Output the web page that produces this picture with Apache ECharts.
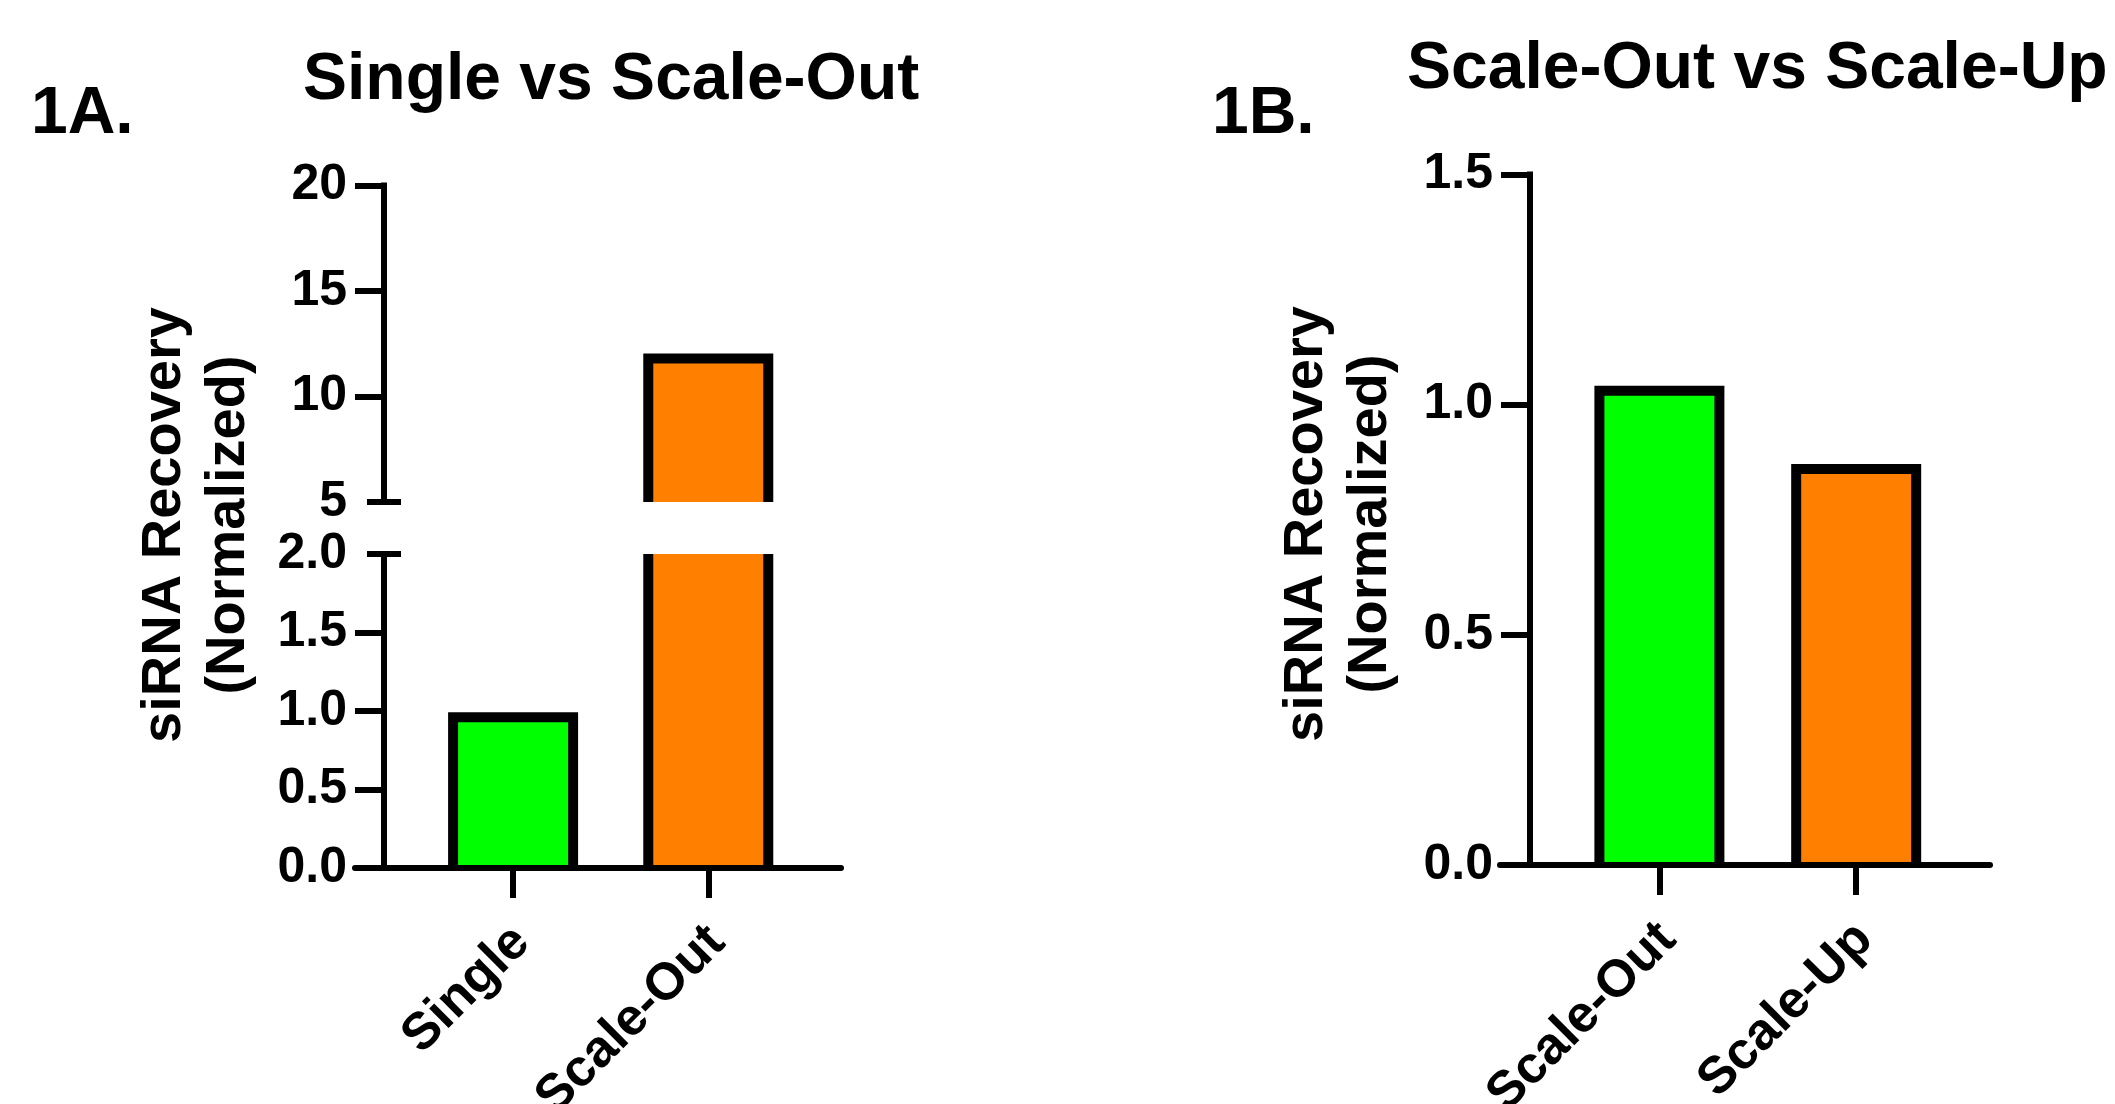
<!DOCTYPE html>
<html>
<head>
<meta charset="utf-8">
<script src="https://cdn.jsdelivr.net/npm/echarts@6/dist/echarts.min.js"></script>
<style>
  html, body { margin: 0; padding: 0; background: #fff; }
  #chart { width: 2115px; height: 1104px; }
</style>
</head>
<body>
<div id="chart"></div>
<script>
// ---------------- data ----------------
const categoriesA = ['Single', 'Scale-Out'];
const valuesA = [0.96, 11.8];
const colorsA = ['#00FF00', '#FF8000'];

const categoriesB = ['Scale-Out', 'Scale-Up'];
const valuesB = [1.03, 0.86];
const colorsB = ['#00FF00', '#FF8000'];

const ticksAUpper = [5, 10, 15, 20];
const ticksALower = [0, 0.5, 1.0, 1.5, 2.0];
const ticksB = [0, 0.5, 1.0, 1.5];

const titleA = 'Single vs Scale-Out';
const titleB = 'Scale-Out vs Scale-Up';
const yName = 'siRNA Recovery\n(Normalized)';

// ---------------- styles ----------------
const FONT = '"Liberation Sans", Arial, Helvetica, sans-serif';
const LINE_W = 6;
const BAR_WIDTH = 120;
const BORDER = 10;
const TICK_FS = 50;
const CAT_FS = 52;

const chart = echarts.init(document.getElementById('chart'), null, { renderer: 'canvas' });

function makeRender(colors) {
  return function (params, api) {
    const cs = params.coordSys;
    const xv = api.value(0), yv = api.value(1);
    const pt = api.coord([xv, yv]);
    const p0 = api.coord([xv, 0]);
    const top = cs.y, bottom = cs.y + cs.height;
    if (pt[1] >= bottom) return null;
    const clippedTop = pt[1] < top;
    const yTop = clippedTop ? top : pt[1];
    const yBase = Math.min(p0[1], bottom);
    const half = BAR_WIDTH / 2;
    const l = pt[0] - half, r = pt[0] + half;
    const stroke = { stroke: '#000', lineWidth: BORDER, fill: null, lineJoin: 'miter', lineCap: 'butt' };
    const children = [{
      type: 'rect',
      shape: { x: l, y: yTop, width: r - l, height: yBase - yTop },
      style: { fill: colors[params.dataIndex] }
    }];
    if (clippedTop) {
      children.push({ type: 'polyline', shape: { points: [[l, yBase], [l, yTop]] }, style: stroke });
      children.push({ type: 'polyline', shape: { points: [[r, yBase], [r, yTop]] }, style: stroke });
    } else {
      children.push({ type: 'polyline', shape: { points: [[l, yBase], [l, yTop], [r, yTop], [r, yBase]] }, style: stroke });
    }
    return { type: 'group', children: children };
  };
}

const blackLine = { color: '#000', width: LINE_W };
const tickLabelStyle = { color: '#000', fontSize: TICK_FS, fontWeight: 'bold', fontFamily: FONT };

function hiddenX(gridIndex) {
  return { type: 'value', gridIndex: gridIndex, min: 0.19, max: 2.68, show: false, splitLine: { show: false } };
}
function catX(gridIndex, cats) {
  return {
    type: 'value', gridIndex: gridIndex, position: 'bottom', min: 0.19, max: 2.68, z: 10,
    axisLine: { show: true, onZero: false, lineStyle: blackLine },
    axisTick: { show: true, length: 30, lineStyle: blackLine, customValues: cats.map((c, i) => i + 1) },
    axisLabel: {
      show: true, rotate: 45, margin: 58, verticalAlign: 'top', lineHeight: 24,
      customValues: cats.map((c, i) => i + 1),
      formatter: function (v) { return cats[Math.round(v) - 1] || ''; },
      color: '#000', fontSize: CAT_FS, fontWeight: 'bold', fontFamily: FONT
    },
    splitLine: { show: false }
  };
}
function mainY(gridIndex, min, max, interval, tickVals, labelVals, decimals, offset) {
  return {
    type: 'value', gridIndex: gridIndex, position: 'left', min: min, max: max, interval: interval, offset: offset,
    axisLine: { show: true, onZero: false, lineStyle: Object.assign({ cap: 'square' }, blackLine) },
    axisTick: { show: true, length: 29, lineStyle: blackLine, customValues: tickVals },
    axisLabel: {
      show: true, margin: 37, showMinLabel: true, showMaxLabel: true,
      customValues: labelVals,
      formatter: function (v) { return Number(v).toFixed(decimals); },
      ...tickLabelStyle
    },
    splitLine: { show: false }
  };
}
function breakY(gridIndex, min, max, vals) {
  return {
    type: 'value', gridIndex: gridIndex, position: 'left', min: min, max: max, offset: -46,
    axisLine: { show: false, onZero: false },
    axisTick: { show: true, length: 34, lineStyle: blackLine, customValues: vals },
    axisLabel: { show: false },
    splitLine: { show: false }
  };
}

const titleStyle = { color: '#000', fontSize: 66, fontWeight: 'bold', fontFamily: FONT };
const panelStyle = { color: '#000', fontSize: 66, fontWeight: 'bold', fontFamily: FONT };

const option = {
  backgroundColor: '#fff',
  animation: false,
  title: [
    { text: titleA, left: 303, top: 48, padding: 0, textStyle: titleStyle },
    { text: titleB, left: 1407, top: 37, padding: 0, textStyle: titleStyle },
    { text: '1A.', left: 31, top: 82, padding: 0, textStyle: panelStyle },
    { text: '1B.', left: 1212, top: 82, padding: 0, textStyle: panelStyle }
  ],
  grid: [
    { left: 355, top: 185.5, width: 486, height: 316.5, containLabel: false, outerBoundsMode: 'none' },
    { left: 355, top: 554, width: 486, height: 314, containLabel: false, outerBoundsMode: 'none' },
    { left: 1500, top: 174.5, width: 490, height: 690.5, containLabel: false, outerBoundsMode: 'none' }
  ],
  xAxis: [hiddenX(0), catX(1, categoriesA), catX(2, categoriesB)],
  yAxis: [
    mainY(0, 5, 20, 5, ticksAUpper.filter(v => v !== 5), ticksAUpper, 0, -29),
    breakY(0, 5, 20, [5]),
    mainY(1, 0, 2, 0.5, ticksALower.filter(v => v !== 2), ticksALower, 1, -29),
    breakY(1, 0, 2, [2]),
    mainY(2, 0, 1.5, 0.5, ticksB, ticksB, 1, -30)
  ],
  series: [
    { type: 'custom', xAxisIndex: 0, yAxisIndex: 0, clip: false, renderItem: makeRender(colorsA),
      data: valuesA.map((v, i) => [i + 1, v]), encode: { x: 0, y: 1 } },
    { type: 'custom', xAxisIndex: 1, yAxisIndex: 2, clip: false, renderItem: makeRender(colorsA),
      data: valuesA.map((v, i) => [i + 1, v]), encode: { x: 0, y: 1 } },
    { type: 'custom', xAxisIndex: 2, yAxisIndex: 4, clip: false, renderItem: makeRender(colorsB),
      data: valuesB.map((v, i) => [i + 1, v]), encode: { x: 0, y: 1 } }
  ],
  graphic: [
    { type: 'text', x: 197, y: 525, rotation: Math.PI / 2,
      style: { text: yName, font: 'bold 56px ' + FONT, fill: '#000', align: 'center', verticalAlign: 'middle', lineHeight: 64 } },
    { type: 'text', x: 1339, y: 524, rotation: Math.PI / 2,
      style: { text: yName, font: 'bold 56px ' + FONT, fill: '#000', align: 'center', verticalAlign: 'middle', lineHeight: 64 } }
  ]
};

chart.setOption(option);
</script>
</body>
</html>
